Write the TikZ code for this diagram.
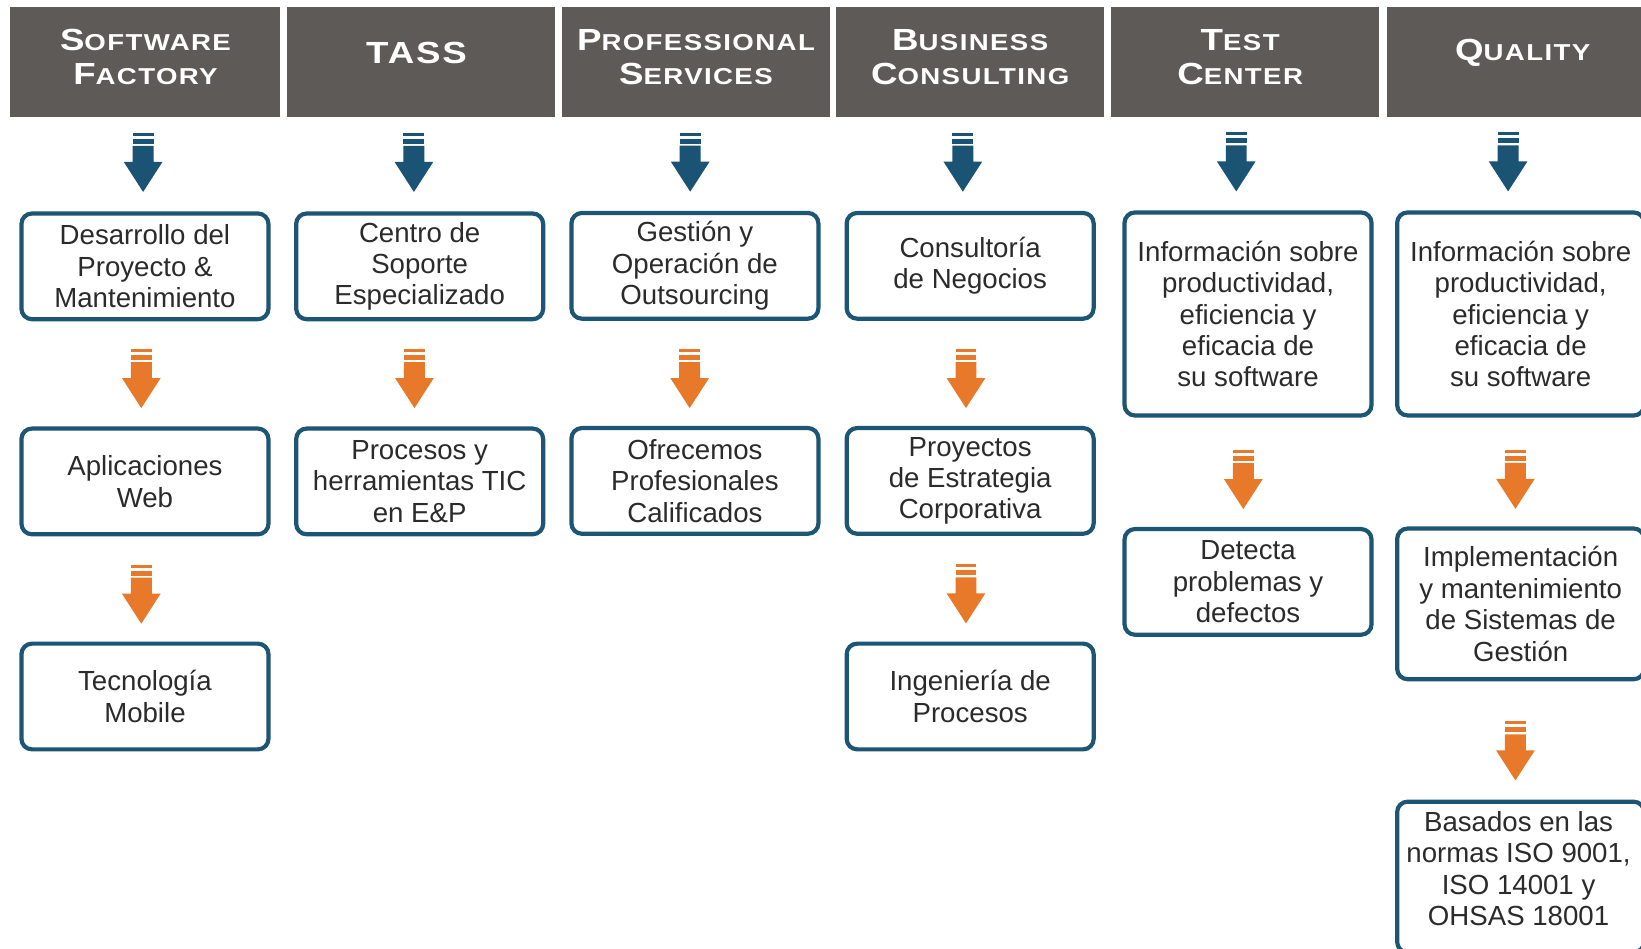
\documentclass[tikz,border=0pt]{standalone}
\usepackage{fontspec}
\setmainfont{Liberation Sans}
\newfontfamily\hdrfont[UprightFont={* Bold},FakeStretch=1.2,LetterSpace=6]{Liberation Sans}
\usetikzlibrary{calc}
\definecolor{hdrgray}{HTML}{5D5A58}
\definecolor{boxblue}{HTML}{1D5575}
\definecolor{arrowblue}{HTML}{1A5373}
\definecolor{arroworange}{HTML}{E8792A}
\definecolor{txt}{HTML}{2B2B2B}
\newcommand\hsc[2]{{\fontsize{14.6}{16.5}\selectfont #1}{\fontsize{11}{16.5}\selectfont #2}}
\tikzset{
  hdr/.style={fill=hdrgray, minimum width=128pt, minimum height=52.5pt, inner sep=0pt},
  hdrtext/.style={text=white, font=\hdrfont\fontsize{11}{16.5}\selectfont, align=center, inner sep=0pt},
  box/.style={draw=boxblue, line width=2pt, rounded corners=5pt, fill=white,
    minimum width=118pt, minimum height=50.5pt, align=center, inner sep=0pt,
    text=txt, font=\fontsize{13.2}{15}\selectfont},
  pics/blockarrow/.style={code={
    \fill (-10,-28.2) rectangle (10,-25.3);
    \fill (-10,-22.5) rectangle (10,-17.7);
    \fill (-10,-15.8) -- (10,-15.8) -- (10,-0.5) -- (18.5,-0.5) -- (0,28.2)
      -- (-18.5,-0.5) -- (-10,-0.5) -- cycle;
  }}
}
\begin{document}
\begin{tikzpicture}[x=0.5pt,y=-0.5pt]
\useasboundingbox (0,0) rectangle (1568,906);
\clip (0,0) rectangle (1568,906);
% headers
\node[hdr, minimum width=129pt] (h1) at (139,59.5) {};
\node[hdr] (h2) at (402,59.5) {};
\node[hdr] (h3) at (665,59.5) {};
\node[hdr] (h4) at (927,59.5) {};
\node[hdr] (h5) at (1190,59.5) {};
\node[hdr] (h6) at (1453,59.5) {};
\node[hdrtext] (t1) at ($(h1.center)+(0,-5)$) {\hsc{S}{OFTWARE}\\\hsc{F}{ACTORY}};
\node[hdrtext] (t2) at ($(h2.center)+(-4,-9)$) {\hsc{TASS}{}};
\node[hdrtext] (t3) at ($(h3.center)+(0,-5)$) {\hsc{P}{ROFESSIONAL}\\\hsc{S}{ERVICES}};
\node[hdrtext] (t4) at ($(h4.center)+(0,-5)$) {\hsc{B}{USINESS}\\\hsc{C}{ONSULTING}};
\node[hdrtext] (t5) at ($(h5.center)+(-5,-5)$) {\hsc{T}{EST}\\\hsc{C}{ENTER}};
\node[hdrtext] (t6) at ($(h6.center)+(2,-9)$) {\hsc{Q}{UALITY}};
% boxes
\node[box] (b11) at (138.5,254.5) {Desarrollo del\\Proyecto \&\\Mantenimiento};
\node[box] (b12) at (138.5,460) {Aplicaciones\\Web};
\node[box] (b13) at (138.5,665.5) {Tecnología\\Mobile};
\node[box] (b21) at (401,254.5) {Centro de\\Soporte\\Especializado};
\node[box] (b22) at (401,460) {Procesos y\\herramientas TIC\\en E\&P};
\node[box] (b31) at (664,254) {Gestión y\\Operación de\\Outsourcing};
\node[box] (b32) at (664,459.5) {Ofrecemos\\Profesionales\\Calificados};
\node[box] (b41) at (927,254) {Consultoría\\de Negocios};
\node[box] (b42) at (927,459.5) {Proyectos\\de Estrategia\\Corporativa};
\node[box] (b43) at (927,665.5) {Ingeniería de\\Procesos};
\node[box, minimum height=97pt] (b51) at (1192.5,300) {Información sobre\\productividad,\\eficiencia y\\eficacia de\\su software};
\node[box] (b52) at (1192.5,556) {Detecta\\problemas y\\defectos};
\node[box, minimum height=97pt] (b61) at (1453,300) {Información sobre\\productividad,\\eficiencia y\\eficacia de\\su software};
\node[box, minimum height=72pt] (b62) at (1453,577) {Implementación\\y mantenimiento\\de Sistemas de\\Gestión};
\node[box, minimum height=72pt] (b63) at (1453,838) {};
\node[align=center, inner sep=0pt, text=txt, font=\fontsize{13.2}{15}\selectfont] (b63t) at ($(b63.center)+(-2,-8)$) {Basados en las\\normas ISO 9001,\\ISO 14001 y\\OHSAS 18001};
% blue arrows
\pic[color=arrowblue] at ($(h1.south)!.5!(b11.north)+(-2,-2)$) {blockarrow};
\pic[color=arrowblue] at ($(h2.south)!.5!(b21.north)+(-6,-2)$) {blockarrow};
\pic[color=arrowblue] at ($(h3.south)!.5!(b31.north)+(-5,-2)$) {blockarrow};
\pic[color=arrowblue] at ($(h4.south)!.5!(b41.north)+(-7,-2)$) {blockarrow};
\pic[color=arrowblue] at ($(h5.south)!.5!(b51.north)+(-10,-2)$) {blockarrow};
\pic[color=arrowblue] at ($(h6.south)!.5!(b61.north)+(-12,-2)$) {blockarrow};
% orange arrows
\pic[color=arroworange] at ($(b11.south)!.5!(b12.north)+(-3.5,4.5)$) {blockarrow};
\pic[color=arroworange] at ($(b12.south)!.5!(b13.north)+(-3.5,5)$) {blockarrow};
\pic[color=arroworange] at ($(b21.south)!.5!(b22.north)+(-5,4.5)$) {blockarrow};
\pic[color=arroworange] at ($(b31.south)!.5!(b32.north)+(-5,5)$) {blockarrow};
\pic[color=arroworange] at ($(b41.south)!.5!(b42.north)+(-4,5)$) {blockarrow};
\pic[color=arroworange] at ($(b42.south)!.5!(b43.north)+(-4,5)$) {blockarrow};
\pic[color=arroworange] at ($(b51.south)!.5!(b52.north)+(-4.5,7)$) {blockarrow};
\pic[color=arroworange] at ($(b61.south)!.5!(b62.north)+(-5,7)$) {blockarrow};
\pic[color=arroworange] at ($(b62.south)!.5!(b63.north)+(-5,10)$) {blockarrow};
\end{tikzpicture}
\end{document}
